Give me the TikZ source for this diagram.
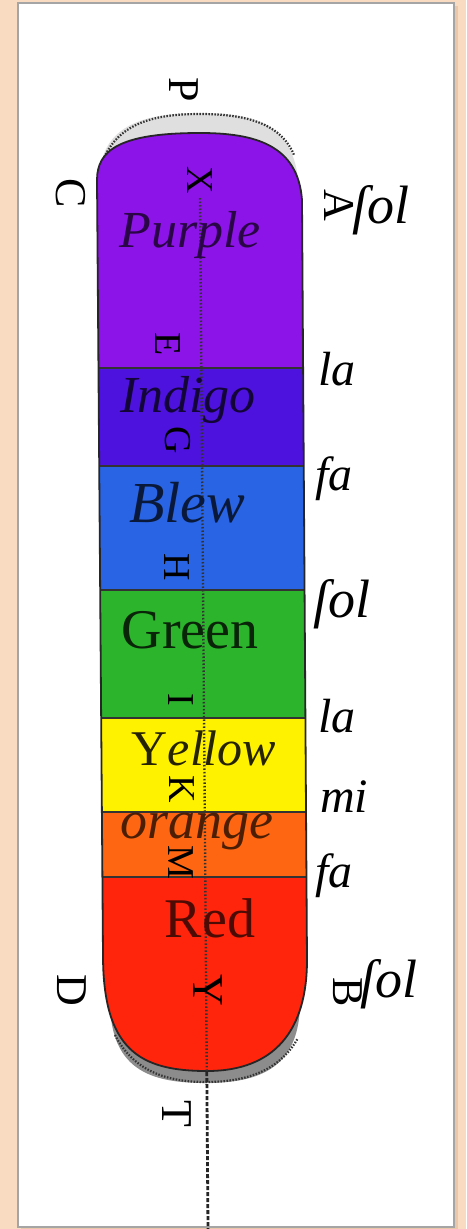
\documentclass[tikz,border=0pt]{standalone}
\usepackage{fontspec}
\setmainfont{Liberation Serif}
\definecolor{peach}{RGB}{249,219,194}
\definecolor{peachdark}{RGB}{236,198,168}
\definecolor{framegray}{RGB}{165,165,165}
\definecolor{cpurple}{RGB}{140,20,232}
\definecolor{cindigo}{RGB}{78,18,222}
\definecolor{cblew}{RGB}{40,100,228}
\definecolor{cgreen}{RGB}{44,180,44}
\definecolor{cyellow}{RGB}{255,242,0}
\definecolor{corange}{RGB}{255,102,18}
\definecolor{cred}{RGB}{255,36,12}
\newcommand{\barshape}{(97,180) .. controls (97,150) and (120,133) .. (200,133) .. controls (255,133) and (298,145) .. (302,200) -- (307,960) .. controls (307,1030) and (275,1071) .. (207,1071) .. controls (140,1071) and (103,1050) .. (103,955) -- cycle}
\begin{document}
\begin{tikzpicture}[x=1pt, y=-1pt,
  ptlab/.style={font=\fontsize{44}{44}\selectfont, rotate=-90, inner sep=0pt},
  inlab/.style={font=\fontsize{38}{38}\selectfont, rotate=-90, inner sep=0pt, text=black},
  note/.style={font=\fontsize{48}{48}\selectfont\itshape, inner sep=0pt, anchor=base west},
  hue/.style={font=\fontsize{52}{52}\selectfont\itshape, inner sep=0pt},
  hueup/.style={font=\fontsize{56}{56}\selectfont, inner sep=0pt},
  bandline/.style={line width=2.6pt, black!80},
  rimdots/.style={line width=2.2pt, black!80, dash pattern=on 1.5pt off 1.5pt}]
\useasboundingbox (0,0) rectangle (466,1229);
\fill[peach] (0,0) rectangle (466,1229);
\fill[peachdark] (21,6) rectangle (458,1229);
\filldraw[fill=white, draw=framegray, line width=1.5pt] (18,3) rectangle (454,1227);
\fill[gray!25] (100,175) .. controls (102,125) and (145,113) .. (200,113) .. controls (258,113) and (296,125) .. (299,190) -- cycle;
\draw[rimdots] (103,160) .. controls (118,125) and (150,114) .. (200,114) .. controls (255,114) and (283,128) .. (294,155);
\fill[black!45] (110,995) .. controls (108,1070) and (150,1083) .. (206,1083) .. controls (268,1083) and (302,1062) .. (300,995) -- cycle;
\draw[rimdots] (115,1035) .. controls (132,1068) and (162,1082) .. (206,1082) .. controls (255,1082) and (283,1065) .. (298,1038);
\begin{scope}
\clip \barshape;
\foreach \ya/\yb/\col in {100/368/cpurple, 368/466/cindigo, 466/590/cblew, 590/718/cgreen, 718/812/cyellow, 812/877/corange, 877/1100/cred}
  \fill[\col] (90,\ya) rectangle (320,\yb);
\foreach \yy in {368,466,590,718,812,877}
  \draw[bandline] (90,\yy) -- (320,\yy);
\end{scope}
\draw[line width=1.8pt, black!85] \barshape;
\coordinate (axtop) at (200,198);
\coordinate (axmid) at (206.8,1072);
\coordinate (axbot) at (208,1229);
\draw[black!80, line width=2.4pt, dash pattern=on 1.5pt off 2pt] (axtop) -- (axmid);
\draw[black!85, line width=2.8pt, dash pattern=on 4pt off 2pt] (axmid) -- (axbot);
\node[ptlab] (P) at (184,90) {P};
\node[ptlab] (C) at (71,193) {C};
\node[ptlab] (A) at (339,205) {A};
\node[ptlab] (D) at (72,990) {D};
\node[ptlab] (B) at (348,992) {B};
\node[ptlab] (T) at (177,1114) {T};
\node[inlab] (X) at (200,180) {X};
\node[inlab] (E) at (168,344) {E};
\node[inlab] (G) at (178,440) {G};
\node[inlab] (H) at (177,567) {H};
\node[inlab] (I) at (181,700) {I};
\node[inlab] (K) at (182,789) {K};
\node[inlab] (M) at (181,862) {M};
\node[inlab, font=\fontsize{44}{44}\selectfont] (Y) at (208,990) {Y};
\node[hue, text=black!70!cpurple] (purple) at (190,235) {Purple};
\node[hue, text=black!75!cindigo] (indigo) at (188,400) {Indigo};
\node[hue, font=\fontsize{58}{58}\selectfont\itshape, text=black!75!cblew] (blew) at (187,503) {Blew};
\node[hueup, text=black!80!cgreen] (green) at (190,630) {Green};
\node[hue, font=\fontsize{50}{50}\selectfont\itshape, text=black!85!cyellow] (yellow) at (204,748) {{\upshape Y}ellow};
\node[hue, font=\fontsize{54}{54}\selectfont\itshape, text=black!70!corange] (orange) at (197,832) {orange};
\node[hueup, text=black!70!cred] (red) at (210,918) {Red};
\node[note, font=\fontsize{54}{54}\selectfont\itshape] (solA) at (352,223) {ſol};
\node[note] (la1) at (318,385) {la};
\node[note] (fa1) at (315,490) {fa};
\node[note, font=\fontsize{54}{54}\selectfont\itshape] (sol2) at (313,617) {ſol};
\node[note] (la2) at (318,732) {la};
\node[note] (mi) at (320,812) {mi};
\node[note] (fa2) at (315,887) {fa};
\node[note, font=\fontsize{54}{54}\selectfont\itshape] (solB) at (360,997) {ſol};
\end{tikzpicture}
\end{document}
